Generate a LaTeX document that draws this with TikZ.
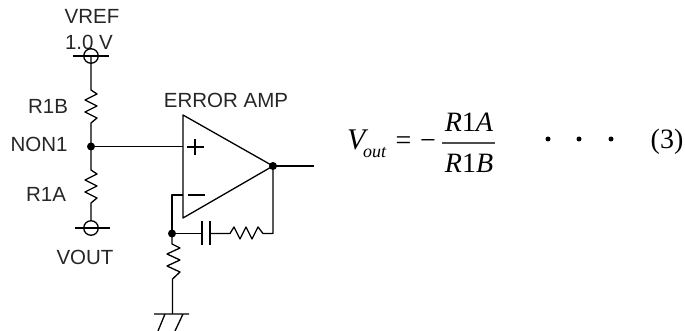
\documentclass[tikz,border=0pt]{standalone}
\usepackage{fontspec}
\setmainfont{Liberation Sans}
\newfontfamily\serifeq{Liberation Serif}
\begin{document}
\begin{tikzpicture}[x=1pt,y=-1pt,
  wire/.style={line width=1.3pt,black,line join=round},
  dotn/.style={circle,fill=black,inner sep=0pt,minimum size=8pt},
  term/.style={circle,draw=black,line width=1.3pt,inner sep=0pt,minimum size=14.5pt},
  lab/.style={inner sep=0pt,font=\fontsize{20.5}{24}\selectfont,text=black!85},
  eq/.style={inner sep=0pt,font=\serifeq\fontsize{28}{30}\selectfont}]
\useasboundingbox (0,0) rectangle (685,331);
\node[lab] (vref) at (92,16) {VREF};
\node[lab] (volt) at (89,42) {1.0 V};
\node[lab] (r1b) at (48,106) {R1B};
\node[lab] (non1) at (39,144) {NON1};
\node[lab] (r1a) at (46,194) {R1A};
\node[lab] (vout) at (85,257) {VOUT};
\node[lab] (amp) at (226,100) {ERROR AMP};
\node[term] (t1) at (91,56) {};
\node[term] (t2) at (91,228) {};
\node[dotn] (j1) at (91,146.5) {};
\node[dotn] (j2) at (172,233.5) {};
\node[dotn] (j3) at (273,166) {};
\coordinate (amptop) at (183,115);
\coordinate (ampbot) at (183,218);
\coordinate (plusin) at (183,146.5);
\coordinate (minusin) at (183,195);
\coordinate (out) at (314,166);
\coordinate (fbk) at (273,233.5);
\draw[wire] (73,56) -- (109,56);
\draw[wire] (75,228) -- (110,228);
\draw[wire] (amptop) -- (j3.center) -- (ampbot) -- cycle;
\draw[wire] (187,147) -- (204,147) (195,139) -- (195,155);
\draw[wire] (188,195) -- (205,195);
\draw[wire] (t1.center) -- (91,90) -- (97,94) -- (85,100) -- (97,106) -- (85,112) -- (97,118) -- (91,123) -- (j1.center);
\draw[wire] (j1.center) -- (91,170) -- (97,174) -- (85,180) -- (97,186) -- (85,192) -- (97,198) -- (91,203) -- (t2.north);
\draw[wire] (j1.center) -- (plusin);
\draw[wire] (minusin) -- (172,195) -- (j2.center);
\draw[wire] (j3.center) -- (out);
\draw[wire] (j3.center) -- (fbk) -- (263,233.5) -- (258,227) -- (252,239) -- (246,227) -- (240,239) -- (234,227) -- (230,233.5) -- (210,233.5);
\draw[wire] (210,221) -- (210,245) (202,221) -- (202,245);
\draw[wire] (j2.center) -- (202,233.5);
\draw[wire] (j2.center) -- (172,244) -- (180,248) -- (167,254) -- (180,260) -- (167,266) -- (180,272) -- (172.5,279) -- (172.5,314);
\draw[wire] (154,314) -- (189,314) (165,314) -- (158,331) (183,314) -- (175,331);
\node[eq,anchor=base west,font=\serifeq\fontsize{30}{32}\selectfont] (v) at (347,150) {\textit{V}};
\node[eq,anchor=base west,font=\serifeq\itshape\fontsize{18}{20}\selectfont] (sub) at (363,158) {out};
\node[eq,anchor=base west] (m) at (395.5,150) {=};
\node[eq,anchor=base west] (m2) at (420,150) {−};
\node[eq,anchor=base] (num) at (469,132) {\textit{R}1\textit{A}};
\node[eq,anchor=base] (den) at (469,173) {\textit{R}1\textit{B}};
\draw[line width=1.1pt,black!70] (442,143) -- (495,143);
\node[dotn,minimum size=5pt] (d1) at (548,139) {};
\node[dotn,minimum size=5pt] (d2) at (579,139) {};
\node[dotn,minimum size=5pt] (d3) at (611,139) {};
\node[eq,anchor=base] (n3) at (667,149) {(3)};
\end{tikzpicture}
\end{document}
